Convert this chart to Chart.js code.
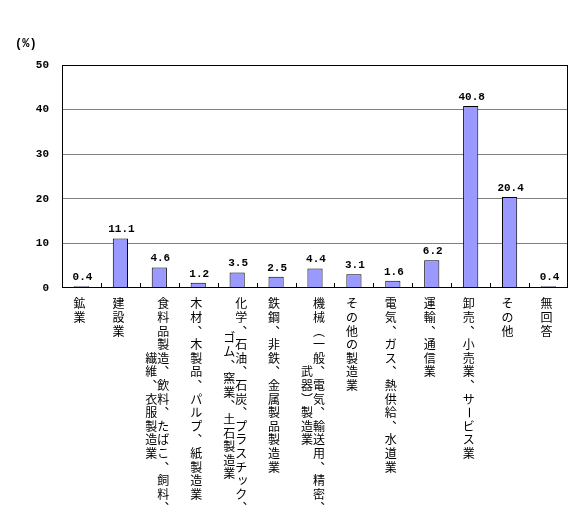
<!DOCTYPE html>
<html>
<head>
<meta charset="utf-8">
<script src="https://cdn.jsdelivr.net/npm/chart.js@4.4.0/dist/chart.umd.min.js"></script>
<style>
  html, body { margin: 0; padding: 0; background: #fff; }
</style>
</head>
<body>
<canvas id="myChart" width="580" height="531"></canvas>
<script>
// category labels: each entry is a list of vertical columns (first column drawn rightmost)
const categories = [
    ['鉱業'],
    ['建設業'],
    ['食料品製造、飲料、たばこ、飼料、', '繊維、衣服製造業'],
    ['木材、木製品、パルプ、紙製造業'],
    ['化学、石油、石炭、プラスチック、', 'ゴム、窯業、土石製造業'],
    ['鉄鋼、非鉄、金属製品製造業'],
    ['機械（一般、電気、輸送用、精密、', '武器）製造業'],
    ['その他の製造業'],
    ['電気、ガス、熱供給、水道業'],
    ['運輸、通信業'],
    ['卸売、小売業、サービス業'],
    ['その他'],
    ['無回答'],
];
const values = [0.4, 11.1, 4.6, 1.2, 3.5, 2.5, 4.4, 3.1, 1.6, 6.2, 40.8, 20.4, 0.4];
const yTicks = [0, 10, 20, 30, 40, 50];
const unitLabel = '(%)';

const numFont = 'bold 11px "Liberation Mono", "DejaVu Sans Mono", monospace';
const jpFont = '12px "Noto Sans CJK JP", sans-serif';

const verticalForms = { '、': '︑', '（': '︵', '）': '︶', '。': '︒' };
const smallKana = 'ッャュョァィゥェォっゃゅょぁぃぅぇぉ';

function drawVerticalText(ctx, text, x, top, pitch) {
    let i = 0;
    for (const ch of text) {
        const cy = top + (i + 0.5) * pitch;
        if (ch === 'ー') {
            ctx.save();
            ctx.translate(x, cy);
            ctx.rotate(Math.PI / 2);
            ctx.fillText(ch, 0, 0);
            ctx.restore();
        } else if (smallKana.includes(ch)) {
            ctx.fillText(ch, x + 1.5, cy - 1.5);
        } else {
            ctx.fillText(verticalForms[ch] || ch, x, cy);
        }
        i++;
    }
}

const chartDecor = {
    id: 'chartDecor',
    afterDatasetsDraw(chart) {
        const ctx = chart.ctx;
        const area = chart.chartArea;
        const xScale = chart.scales.x;
        const yScale = chart.scales.y;

        // plot box
        ctx.save();
        ctx.strokeStyle = '#000';
        ctx.lineWidth = 1;
        ctx.strokeRect(Math.round(area.left) + 0.5, Math.round(area.top) + 0.5,
            Math.round(area.right - area.left) - 1, Math.round(area.bottom - area.top) - 1);

        // small tick marks between categories, pointing up
        const step = (area.right - area.left) / categories.length;
        ctx.beginPath();
        for (let i = 1; i < categories.length; i++) {
            const x = Math.round(area.left + i * step) + 0.5;
            ctx.moveTo(x, area.bottom);
            ctx.lineTo(x, area.bottom - 5);
        }
        ctx.stroke();

        // value labels above bars
        ctx.fillStyle = '#000';
        ctx.font = numFont;
        ctx.textAlign = 'center';
        ctx.textBaseline = 'alphabetic';
        const meta = chart.getDatasetMeta(0);
        meta.data.forEach((bar, i) => {
            ctx.fillText(values[i].toFixed(1).split('').join(''), bar.x + 1, bar.y - 6);
        });

        // vertical category labels
        ctx.font = jpFont;
        ctx.textAlign = 'center';
        ctx.textBaseline = 'middle';
        const pitch = 13.6;
        const colGap = 12;
        const labelTop = 297;
        categories.forEach((cols, i) => {
            const cx = xScale.getPixelForValue(i) - 2;
            const n = cols.length;
            const maxLen = Math.max(...cols.map(c => [...c].length));
            cols.forEach((col, j) => {
                const x = cx + ((n - 1) / 2 - j) * colGap;
                const offset = (maxLen - [...col].length) / 2 * pitch;
                drawVerticalText(ctx, col, x, labelTop + offset, pitch);
            });
        });

        // unit label
        ctx.font = 'bold 12px "Liberation Mono", "DejaVu Sans Mono", monospace';
        ctx.textAlign = 'left';
        ctx.textBaseline = 'middle';
        ctx.fillText(unitLabel, 15, 44);
        ctx.restore();
    }
};

const data = {
    labels: categories.map(c => c.join('')),
    datasets: [{
        data: values,
        backgroundColor: '#9999FF',
        borderColor: '#000',
        borderWidth: 1,
        barPercentage: 0.39,
        categoryPercentage: 1.0,
    }]
};

const config = {
    type: 'bar',
    data: data,
    plugins: [chartDecor],
    options: {
        responsive: false,
        animation: false,
        layout: { padding: { left: 0, top: 65, right: 12, bottom: 243 } },
        plugins: {
            legend: { display: false },
            tooltip: { enabled: false },
        },
        scales: {
            x: {
                display: false,
            },
            y: {
                min: yTicks[0],
                max: yTicks[yTicks.length - 1],
                afterFit(scale) { scale.width = 62; },
                afterBuildTicks(scale) { scale.ticks = yTicks.map(v => ({ value: v })); },
                border: { display: false },
                grid: {
                    drawTicks: false,
                    color: ctx => (ctx.tick && (ctx.tick.value === 0 || ctx.tick.value === 50)) ? 'rgba(0,0,0,0)' : '#808080',
                    lineWidth: 1,
                },
                ticks: {
                    padding: 13,
                    color: '#000',
                    font: { family: '"Liberation Mono", "DejaVu Sans Mono", monospace', size: 11, weight: 'bold' },
                },
            }
        }
    }
};

const myChart = new Chart(document.getElementById('myChart'), config);
</script>
</body>
</html>
